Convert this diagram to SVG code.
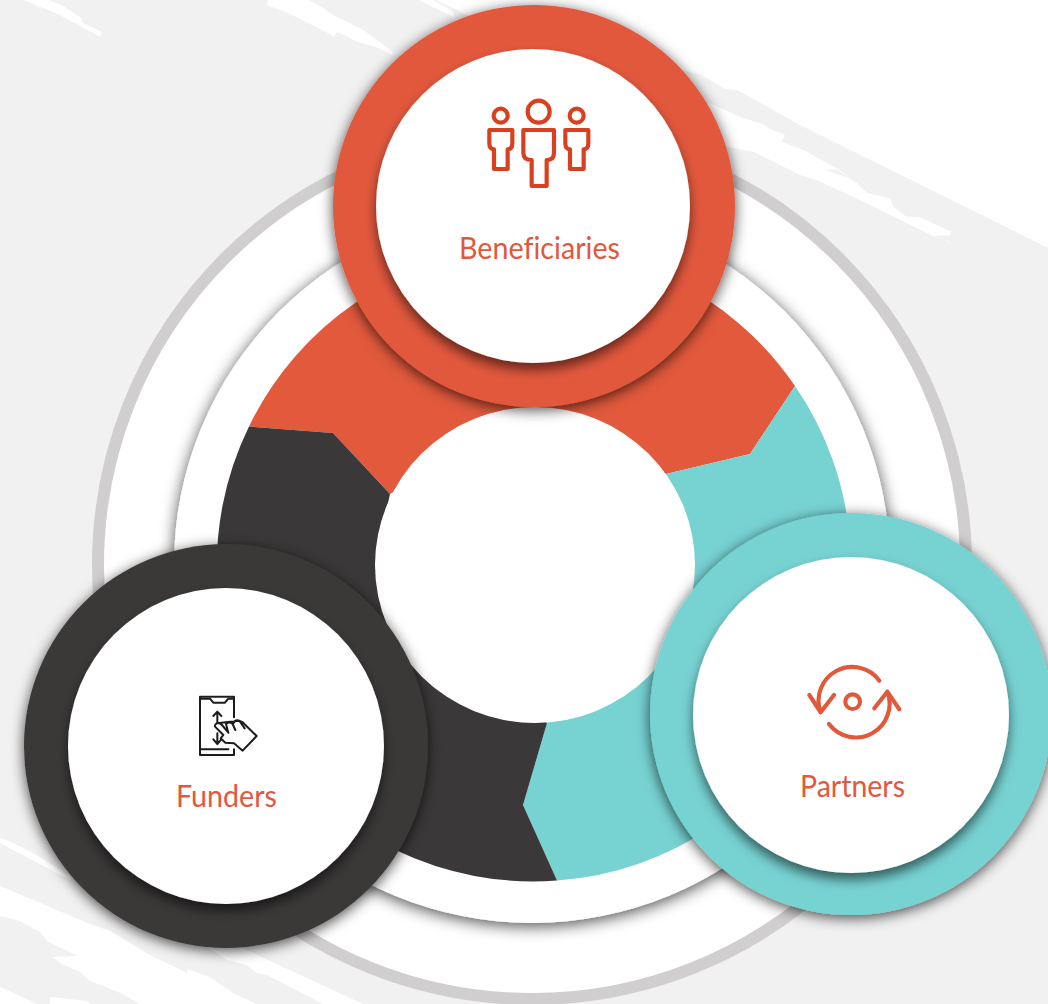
<svg xmlns="http://www.w3.org/2000/svg" width="1048" height="1004" viewBox="0 0 1048 1004">
<defs>
<style>
.g{fill:#f1f1f1}.w{fill:#fff}
.lbl{font-family:"Lato","Open Sans",sans-serif;font-size:30px;fill:#e2583e;text-anchor:middle;font-variant-ligatures:none}
.ic{fill:none;stroke-linejoin:round;stroke-linecap:round}
</style>
<filter id="s1" x="-20%" y="-20%" width="140%" height="140%"><feDropShadow dx="0" dy="3" stdDeviation="8" flood-color="#000" flood-opacity=".7"/></filter>
<filter id="s2" x="-20%" y="-20%" width="140%" height="140%"><feDropShadow dx="0" dy="3" stdDeviation="7" flood-color="#000" flood-opacity=".7"/></filter>
<filter id="s3" x="-20%" y="-20%" width="140%" height="140%"><feDropShadow dx="0" dy="7" stdDeviation="6" flood-color="#000" flood-opacity=".55"/></filter>
</defs>
<rect width="1048" height="1004" fill="#fff"/>
<g id="background">
<path class="g" d="M0 0H437L467 15L702 75L725 89L737 90L750 97L800 125L1048 248V1004H0Z"/>
<g class="w" transform="scale(.33333)">
<path d="M70 0L180 45L300 110L305 100L300 92L248 68L245 55L185 15L145 0Z"/>
<path d="M805 0L800 15L860 37L985 100L1000 110L1012 97L1040 108L1070 125L1125 140L1180 165L1175 152L1090 90L1000 45L950 12L925 0Z"/>
<path d="M1255 0L1365 53L1360 35L1300 0Z"/>
</g>
<g class="w" transform="translate(600 0) scale(.33333)">
<path d="M320 305L430 355L490 372L505 385L555 405L545 425L610 450L710 505L770 548L800 578L870 595L880 620L920 650L955 650L1055 695L1050 705L1000 708L800 610L650 540L600 525L460 455L380 440L300 420Z"/>
<path d="M1030 720L1068 735L1045 724Z"/>
</g>
<g class="g" transform="translate(600 0) scale(.33333)">
<path d="M675 510L708 508L770 548L735 530Z"/>
</g>
<g class="w">
<path d="M0 838L7 840L33 853L73 878L70 880L0 843Z"/>
<path d="M0 886L90 924L110 931L150 955L173 966L187 973L187 969L210 977L233 993L257 1004H140L123 994L90 981L80 972L62 964L53 957L78 956L47 941L40 932L20 921L0 916Z"/>
<path d="M207 947L227 960L247 965L257 973L267 975L323 1004H363L240 947Z"/>
<path d="M0 987L37 1004H0Z"/>
<path d="M50 997L88 1001L90 1004H50Z"/>
</g>
</g>
<g id="rings">
<circle cx="532" cy="565" r="434" fill="#fff" stroke="#d0cece" stroke-width="12"/>
<circle cx="532" cy="565" r="358" fill="#fff" filter="url(#s1)"/>
</g>
<g id="donut">
<path fill="#e2593c" d="M249 426.500A316 316 0 0 1 795 386L750 454L666 474L535 407L390 494L333 433Z"/>
<path fill="#77d2d2" d="M795 386A316 316 0 0 1 557 880.500L523 805L547 723L695 565L666 474L750 454Z"/>
<path fill="#3b3839" d="M249 426.500L333 433L390 494L375 565L547 723L523 805L557 880.500A316 316 0 0 1 249 426.500Z"/>
<ellipse cx="535" cy="565" rx="160" ry="158" fill="#fff"/>
</g>
<g id="beneficiaries">
<circle cx="534" cy="206" r="201" fill="#e2593c" filter="url(#s2)"/>
<circle cx="533" cy="206" r="157" fill="#fff" filter="url(#s3)"/>
<g class="ic" stroke="#d9401f" stroke-width="12.500" transform="translate(440 80) scale(.33333)">
<circle cx="296" cy="95" r="33"/><circle cx="182" cy="107" r="21"/><circle cx="410" cy="107" r="21"/>
<path d="M250 150H342V218Q342 240 320 240V318H275V240Q250 240 250 218Z"/>
<path d="M148 150H217V190Q217 208 203 208V267H162V208Q148 208 148 190Z"/>
<path d="M376 150H445V190Q445 208 431 208V267H390V208Q376 208 376 190Z"/>
</g>
<text class="lbl" x="539.500" y="258.500" textLength="161" lengthAdjust="spacingAndGlyphs">Beneficiaries</text>
</g>
<g id="funders">
<circle cx="226" cy="746" r="202" fill="#3b3839" filter="url(#s2)"/>
<circle cx="226" cy="746" r="158" fill="#fff" filter="url(#s3)"/>
<g class="ic" stroke="#1c1c1c" stroke-width="6" transform="translate(160 680) scale(.33333)">
<path d="M222 112V50H120V225H222V208"/>
<path d="M120 56H150L160 68H195L205 56H222M120 208H205M120 155V170"/>
<path d="M172 128V95M160 108L172 95L184 108M172 160V192M160 178L172 192L184 178"/>
<path d="M170 130Q178 126 186 135L205 158M205 158L198 132Q208 122 218 132L226 150M218 132Q225 118 238 122L254 145M238 122Q250 125 256 135L290 168L248 212L222 190L196 188L182 175L190 165L165 140Q164 133 170 130Z"/>
</g>
<text class="lbl" x="226.500" y="806.500" textLength="101" lengthAdjust="spacingAndGlyphs">Funders</text>
</g>
<g id="partners">
<circle cx="851" cy="714" r="201" fill="#77d2d2" filter="url(#s2)"/>
<circle cx="851" cy="715" r="158" fill="#fff" filter="url(#s3)"/>
<g class="ic" stroke="#e2583b" stroke-width="12.500" transform="translate(780 650) scale(.33333)">
<circle cx="218" cy="155" r="22"/>
<path d="M298 92A101 101 0 0 0 122 187M88 135L122 187L162 135M147 222A101 101 0 0 0 322 125M283 175L322 125L358 178"/>
</g>
<text class="lbl" x="852.500" y="796.500" textLength="105" lengthAdjust="spacingAndGlyphs">Partners</text>
</g>
</svg>
